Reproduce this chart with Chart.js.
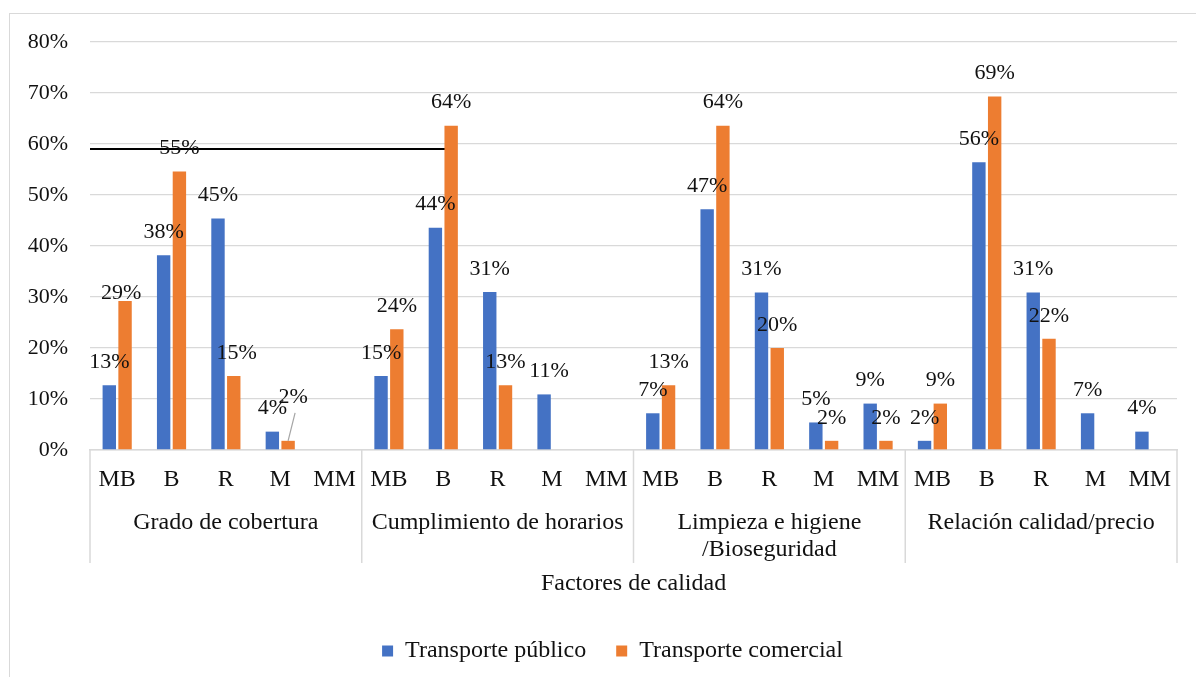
<!DOCTYPE html>
<html lang="es">
<head>
<meta charset="utf-8">
<title>Factores de calidad</title>
<script src="https://cdn.jsdelivr.net/npm/chart.js@4.4.1/dist/chart.umd.min.js"></script>
<style>
  html, body { margin: 0; padding: 0; background: #fff; overflow: hidden; }
  #wrap { position: relative; width: 1196px; height: 677px; }
  #frame { position: absolute; left: 9px; top: 13px; right: -4px; bottom: -4px; border: 1.5px solid #d9d9d9; }
  canvas { position: absolute; left: 0; top: 0; }
</style>
</head>
<body>
<div id="wrap">
  <div id="frame"></div>
  <canvas id="qualityChart" width="1196" height="677"></canvas>
</div>
<script>
const ratings = ['MB', 'B', 'R', 'M', 'MM'];
const factors = ['Grado de cobertura', 'Cumplimiento de horarios', ['Limpieza e higiene', '/Bioseguridad'], 'Relación calidad/precio'];

// percentages per rating, factor after factor
const publicTransport = [12.7, 38.2, 45.4, 3.6, null, 14.5, 43.6, 31.0, 10.9, null, 7.2, 47.2, 30.9, 5.4, 9.1, 1.8, 56.4, 30.9, 7.2, 3.6];
const commercialTransport = [29.2, 54.6, 14.5, 1.8, null, 23.7, 63.6, 12.7, null, null, 12.7, 63.6, 20.0, 1.8, 1.8, 9.1, 69.3, 21.8, null, null];

const yMax = 80;
const yStep = 10;
const markerLevel = 59;   // the black rule drawn across the first block
const markerEndIndex = 6;

// a few labels were nudged by hand: [dx, dy] per "dataset-index"
const labelNudge = { '1-0': [-4, 15], '1-2': [3, 0], '1-3': [5, -21], '0-8': [5, 0] };
const leaderLines = ['1-3'];

const FONT = "'Liberation Serif', 'Times New Roman', serif";
const NUM_SIZE = 22;
const TEXT_SIZE = 24;
const BLUE = '#4472C4';
const ORANGE = '#ED7D31';
const GRID = '#d9d9d9';

const labels = factors.flatMap(() => ratings);

const valueLabels = {
    id: 'valueLabels',
    afterDatasetsDraw(chart) {
        const ctx = chart.ctx;
        ctx.save();
        ctx.font = NUM_SIZE + 'px ' + FONT;
        ctx.fillStyle = '#111';
        ctx.textAlign = 'center';
        ctx.textBaseline = 'middle';
        chart.data.datasets.forEach((ds, di) => {
            chart.getDatasetMeta(di).data.forEach((bar, i) => {
                const v = ds.data[i];
                if (v === null) return;
                const key = di + '-' + i;
                const [dx, dy] = labelNudge[key] || [0, 0];
                const lx = bar.x + dx;
                const ly = bar.y - 23 + dy;
                ctx.fillText(Math.round(v) + '%', lx, ly);
                if (leaderLines.includes(key)) {
                    ctx.strokeStyle = '#a6a6a6';
                    ctx.lineWidth = 1.2;
                    ctx.beginPath();
                    ctx.moveTo(lx + 2, ly + 16);
                    ctx.lineTo(bar.x, bar.y);
                    ctx.stroke();
                }
            });
        });
        ctx.restore();
    }
};

const groupAxis = {
    id: 'groupAxis',
    afterDraw(chart) {
        const {ctx, chartArea} = chart;
        const x = chart.scales.x;
        const per = ratings.length;
        ctx.save();
        ctx.strokeStyle = GRID;
        ctx.lineWidth = 1.5;
        for (let g = 0; g <= factors.length; g++) {
            const px = x.getPixelForValue(g * per - 0.5);
            ctx.beginPath();
            ctx.moveTo(px, chartArea.bottom);
            ctx.lineTo(px, chartArea.bottom + 113);
            ctx.stroke();
        }
        ctx.font = TEXT_SIZE + 'px ' + FONT;
        ctx.fillStyle = '#111';
        ctx.textAlign = 'center';
        ctx.textBaseline = 'middle';
        factors.forEach((name, g) => {
            const cx = (x.getPixelForValue(g * per - 0.5) + x.getPixelForValue((g + 1) * per - 0.5)) / 2;
            const lines = Array.isArray(name) ? name : [name];
            lines.forEach((line, k) => ctx.fillText(line, cx, chartArea.bottom + 73 + k * 27));
        });
        ctx.restore();
    }
};

const markerRule = {
    id: 'markerRule',
    beforeDatasetsDraw(chart) {
        const {ctx, chartArea, scales: {x, y}} = chart;
        const py = y.getPixelForValue(markerLevel);
        ctx.save();
        ctx.strokeStyle = '#000';
        ctx.lineWidth = 2;
        ctx.beginPath();
        ctx.moveTo(chartArea.left, py);
        ctx.lineTo(x.getPixelForValue(markerEndIndex) + 3, py);
        ctx.stroke();
        ctx.restore();
    }
};

// legend sits a little right of the canvas centre
const legendShift = {
    id: 'legendShift',
    afterLayout(chart) {
        const lg = chart.legend;
        lg.left += 24; lg.right += 24;
        lg.top += 2; lg.bottom += 2;
    }
};

document.addEventListener('DOMContentLoaded', function() {
    const ctx = document.getElementById('qualityChart').getContext('2d');
    new Chart(ctx, {
        type: 'bar',
        data: {
            labels: labels,
            datasets: [{
                label: 'Transporte público',
                data: publicTransport,
                backgroundColor: BLUE,
                categoryPercentage: 0.58,
                barPercentage: 0.85
            }, {
                label: 'Transporte comercial',
                data: commercialTransport,
                backgroundColor: ORANGE,
                categoryPercentage: 0.58,
                barPercentage: 0.85
            }]
        },
        options: {
            responsive: false,
            animation: false,
            layout: { padding: { top: 42, right: 19, bottom: 6, left: 0 } },
            plugins: {
                legend: {
                    position: 'bottom',
                    labels: {
                        font: { family: FONT, size: TEXT_SIZE },
                        color: '#111',
                        boxWidth: 11,
                        boxHeight: 11,
                        padding: 30
                    }
                },
                tooltip: { enabled: false }
            },
            scales: {
                x: {
                    grid: { display: false },
                    border: { display: true, color: GRID, width: 1.5 },
                    ticks: {
                        font: { family: FONT, size: TEXT_SIZE },
                        color: '#111',
                        autoSkip: false,
                        maxRotation: 0,
                        padding: 7
                    },
                    title: {
                        display: true,
                        text: 'Factores de calidad',
                        font: { family: FONT, size: TEXT_SIZE },
                        color: '#111',
                        padding: { top: 0, bottom: 9 }
                    },
                    afterFit: function(scale) { scale.height = 157; }
                },
                y: {
                    min: 0,
                    max: yMax,
                    grid: { color: GRID, lineWidth: 1.3, drawTicks: false },
                    border: { display: false },
                    ticks: {
                        stepSize: yStep,
                        font: { family: FONT, size: NUM_SIZE },
                        color: '#111',
                        padding: 22,
                        callback: function(v) { return v + '%'; }
                    },
                    afterFit: function(scale) { scale.width = 90; }
                }
            }
        },
        plugins: [markerRule, valueLabels, groupAxis, legendShift]
    });
});
</script>
</body>
</html>
